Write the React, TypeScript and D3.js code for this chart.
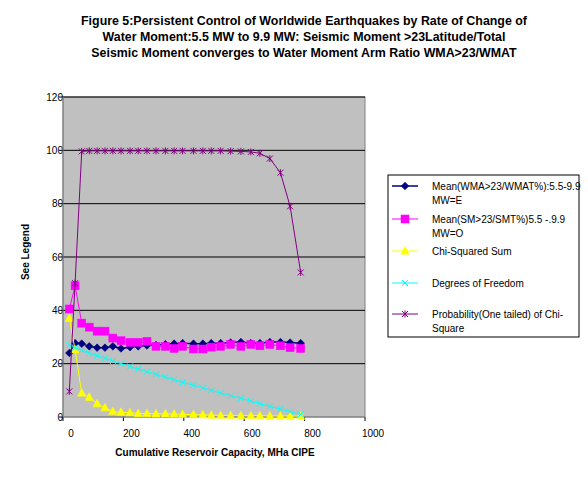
import * as d3 from "d3";

const capacity = [
  21, 40, 62, 87, 113, 139, 165, 192, 222, 249, 278, 308, 339, 368, 396, 432,
  463, 491, 522, 555, 589, 622, 652, 685, 720, 752, 787,
];
const meanWma = [
  24, 27.7, 27.5, 26.5, 26, 26, 26.5, 25.7, 26.2, 26.5, 26.8, 27, 27.3, 27.5,
  27.7, 27.5, 27.5, 27.7, 27.7, 27.9, 28.1, 27.7, 27.7, 28.1, 28.1, 27.9, 27.7,
];
const meanSm = [
  40.5, 49.2, 35.2, 33.7, 32.2, 32.2, 29.6, 28.6, 28, 28, 28.4, 26.5, 26.5,
  25.7, 26.5, 25.5, 25.5, 26.2, 26.5, 27.2, 26.5, 27.2, 26.7, 27.2, 26.7, 26,
  25.7,
];
const chiSum = [
  37, 25.2, 9, 7.4, 5, 3.5, 2.1, 1.8, 1.6, 1.3, 1.3, 1.2, 1.2, 1.1, 1, 0.9,
  0.8, 0.7, 0.6, 0.6, 0.5, 0.5, 0.5, 0.4, 0.4, 0.4, 0.3,
];
const degFreedom = [
  27, 26, 25, 24, 23, 22, 21, 20, 19, 18, 17, 16, 15, 14, 13, 12, 11, 10, 9, 8,
  7, 6, 5, 4, 3, 2, 1,
];
const probability = [
  9.6, 50.2, 99.6, 99.8, 99.8, 99.8, 99.8, 99.8, 99.8, 99.8, 99.8, 99.8, 99.8,
  99.8, 99.8, 99.8, 99.8, 99.8, 99.8, 99.7, 99.6, 99.4, 98.9, 96.9, 91.6, 79,
  54.2,
];

const xTicks = [0, 200, 400, 600, 800, 1000];
const yTicks = [0, 20, 40, 60, 80, 100, 120];

const titleLines = [
  "Figure 5:Persistent Control of Worldwide Earthquakes by Rate of Change of",
  "Water Moment:5.5 MW to 9.9 MW: Seismic Moment >23Latitude/Total",
  "Seismic Moment converges to Water Moment Arm Ratio WMA>23/WMAT",
];

type Marker = "diamond" | "square" | "triangle" | "cross" | "star";

const series: { name: string[]; values: number[]; color: string; marker: Marker; width: number }[] = [
  { name: ["Mean(WMA>23/WMAT%):5.5-9.9", "MW=E"], values: meanWma, color: "#000080", marker: "diamond", width: 1.5 },
  { name: ["Mean(SM>23/SMT%)5.5 -.9.9", "MW=O"], values: meanSm, color: "#FF00FF", marker: "square", width: 1 },
  { name: ["Chi-Squared Sum"], values: chiSum, color: "#FFFF00", marker: "triangle", width: 1 },
  { name: ["Degrees of Freedom"], values: degFreedom, color: "#00FFFF", marker: "cross", width: 1 },
  { name: ["Probability(One tailed) of Chi-", "Square"], values: probability, color: "#800080", marker: "star", width: 1 },
];

function MarkerShape({ type, x, y, color }: { type: Marker; x: number; y: number; color: string }) {
  if (type === "diamond")
    return <path d={`M${x},${y - 3.8}L${x + 3.8},${y}L${x},${y + 3.8}L${x - 3.8},${y}Z`} fill={color} stroke={color} strokeWidth={0.6} />;
  if (type === "square")
    return <rect x={x - 4} y={y - 4} width={8} height={8} fill={color} stroke={color} strokeWidth={0.5} />;
  if (type === "triangle")
    return <path d={`M${x},${y - 4.5}L${x + 4.2},${y + 3.2}L${x - 4.2},${y + 3.2}Z`} fill={color} stroke={color} strokeWidth={0.5} />;
  if (type === "cross")
    return <path d={`M${x - 3},${y - 3}L${x + 3},${y + 3}M${x - 3},${y + 3}L${x + 3},${y - 3}`} stroke={color} strokeWidth={1} fill="none" />;
  return (
    <path
      d={`M${x - 3},${y - 3}L${x + 3},${y + 3}M${x - 3},${y + 3}L${x + 3},${y - 3}M${x},${y - 3.5}L${x},${y + 3.5}`}
      stroke={color}
      strokeWidth={1}
      fill="none"
    />
  );
}

export default function App() {
  const width = 588;
  const height = 479;
  const plot = { left: 63, right: 365, top: 97, bottom: 417 };
  const font = "'Liberation Sans', Arial, sans-serif";

  const x = d3.scaleLinear().domain([0, 1000]).range([plot.left, plot.right]);
  const y = d3.scaleLinear().domain([0, 120]).range([plot.bottom, plot.top]);

  const line = (values: number[]) =>
    d3
      .line<number>()
      .x((_, i) => x(capacity[i]))
      .y((v) => y(v))(values) ?? "";

  const legend = { left: 388, top: 175, right: 579, bottom: 337 };
  const legendRows = [186, 219, 251, 283, 314];

  return (
    <svg
      width={width}
      height={height}
      style={{ position: "absolute", left: 0, top: 0, background: "#fff" }}
      fontFamily={font}
    >
      {titleLines.map((t, i) => (
        <text key={t} x={304} y={25 + i * 16} textAnchor="middle" fontSize={12.4} fontWeight="bold" fill="#000">
          {t}
        </text>
      ))}

      <rect x={plot.left} y={plot.top} width={plot.right - plot.left} height={plot.bottom - plot.top} fill="#C0C0C0" stroke="#808080" />

      {yTicks.map((t) => (
        <g key={`y${t}`}>
          {t > 0 && <line x1={plot.left} x2={plot.right} y1={y(t)} y2={y(t)} stroke="#000" strokeWidth={1} />}
          <line x1={plot.left - 4} x2={plot.left} y1={y(t)} y2={y(t)} stroke="#000" />
          <text x={63} y={y(t)} dy="0.35em" textAnchor="end" fontSize={10} fill="#000">
            {t}
          </text>
        </g>
      ))}

      {xTicks.map((t) => (
        <g key={`x${t}`}>
          <line x1={x(t)} x2={x(t)} y1={plot.bottom} y2={plot.bottom + 4} stroke="#000" />
          <text x={x(t) + 8} y={437} textAnchor="middle" fontSize={10} fill="#000">
            {t}
          </text>
        </g>
      ))}

      <line x1={plot.left} x2={plot.left} y1={plot.top} y2={plot.bottom} stroke="#808080" />
      <line x1={plot.left} x2={plot.right} y1={plot.bottom} y2={plot.bottom} stroke="#808080" />

      {series.map((s) => (
        <g key={s.color}>
          <path d={line(s.values)} fill="none" stroke={s.color} strokeWidth={s.width} />
          {s.values.map((v, i) => (
            <MarkerShape key={i} type={s.marker} x={x(capacity[i])} y={y(v)} color={s.color} />
          ))}
        </g>
      ))}

      <text x={215} y={456} textAnchor="middle" fontSize={10} fontWeight="bold" fill="#000">
        Cumulative Reservoir Capacity, MHa CIPE
      </text>
      <text transform="translate(29,252) rotate(-90)" textAnchor="middle" fontSize={10} fontWeight="bold" fill="#000">
        See Legend
      </text>

      <rect
        x={legend.left}
        y={legend.top}
        width={legend.right - legend.left}
        height={legend.bottom - legend.top}
        fill="#fff"
        stroke="#000"
      />
      {series.map((s, i) => (
        <g key={`lg${s.color}`}>
          <line x1={392} x2={418} y1={legendRows[i]} y2={legendRows[i]} stroke={s.color} strokeWidth={s.width} />
          <MarkerShape type={s.marker} x={405} y={legendRows[i]} color={s.color} />
          {s.name.map((n, j) => (
            <text key={n} x={432} y={legendRows[i] + j * 14} dy="0.35em" fontSize={10} fill="#000">
              {n}
            </text>
          ))}
        </g>
      ))}
    </svg>
  );
}
